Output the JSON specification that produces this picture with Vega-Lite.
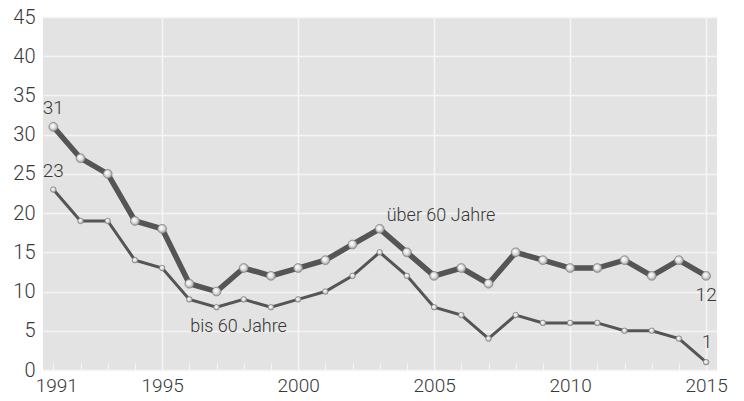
{
  "$schema": "https://vega.github.io/schema/vega-lite/v6.json",
  "width": 674,
  "height": 353,
  "autosize": {"type": "none"},
  "padding": {"left": 43, "top": 17, "right": 27, "bottom": 31},
  "background": "#ffffff",
  "config": {
    "view": {"fill": "#e2e3e2", "stroke": null},
    "font": "Roboto",
    "axis": {
      "labelFont": "Roboto",
      "labelFontWeight": 300,
      "labelColor": "#383838",
      "labelFontSize": 20,
      "domain": false,
      "gridColor": "#f5f5f5",
      "gridWidth": 1.5,
      "title": null
    },
    "text": {"font": "Roboto", "fontWeight": 300, "color": "#383838", "fontSize": 18}
  },
  "data": {
    "values": [
      {"year": 1991, "series": "über 60 Jahre", "value": 31},
      {"year": 1992, "series": "über 60 Jahre", "value": 27},
      {"year": 1993, "series": "über 60 Jahre", "value": 25},
      {"year": 1994, "series": "über 60 Jahre", "value": 19},
      {"year": 1995, "series": "über 60 Jahre", "value": 18},
      {"year": 1996, "series": "über 60 Jahre", "value": 11},
      {"year": 1997, "series": "über 60 Jahre", "value": 10},
      {"year": 1998, "series": "über 60 Jahre", "value": 13},
      {"year": 1999, "series": "über 60 Jahre", "value": 12},
      {"year": 2000, "series": "über 60 Jahre", "value": 13},
      {"year": 2001, "series": "über 60 Jahre", "value": 14},
      {"year": 2002, "series": "über 60 Jahre", "value": 16},
      {"year": 2003, "series": "über 60 Jahre", "value": 18},
      {"year": 2004, "series": "über 60 Jahre", "value": 15},
      {"year": 2005, "series": "über 60 Jahre", "value": 12},
      {"year": 2006, "series": "über 60 Jahre", "value": 13},
      {"year": 2007, "series": "über 60 Jahre", "value": 11},
      {"year": 2008, "series": "über 60 Jahre", "value": 15},
      {"year": 2009, "series": "über 60 Jahre", "value": 14},
      {"year": 2010, "series": "über 60 Jahre", "value": 13},
      {"year": 2011, "series": "über 60 Jahre", "value": 13},
      {"year": 2012, "series": "über 60 Jahre", "value": 14},
      {"year": 2013, "series": "über 60 Jahre", "value": 12},
      {"year": 2014, "series": "über 60 Jahre", "value": 14},
      {"year": 2015, "series": "über 60 Jahre", "value": 12},
      {"year": 1991, "series": "bis 60 Jahre", "value": 23},
      {"year": 1992, "series": "bis 60 Jahre", "value": 19},
      {"year": 1993, "series": "bis 60 Jahre", "value": 19},
      {"year": 1994, "series": "bis 60 Jahre", "value": 14},
      {"year": 1995, "series": "bis 60 Jahre", "value": 13},
      {"year": 1996, "series": "bis 60 Jahre", "value": 9},
      {"year": 1997, "series": "bis 60 Jahre", "value": 8},
      {"year": 1998, "series": "bis 60 Jahre", "value": 9},
      {"year": 1999, "series": "bis 60 Jahre", "value": 8},
      {"year": 2000, "series": "bis 60 Jahre", "value": 9},
      {"year": 2001, "series": "bis 60 Jahre", "value": 10},
      {"year": 2002, "series": "bis 60 Jahre", "value": 12},
      {"year": 2003, "series": "bis 60 Jahre", "value": 15},
      {"year": 2004, "series": "bis 60 Jahre", "value": 12},
      {"year": 2005, "series": "bis 60 Jahre", "value": 8},
      {"year": 2006, "series": "bis 60 Jahre", "value": 7},
      {"year": 2007, "series": "bis 60 Jahre", "value": 4},
      {"year": 2008, "series": "bis 60 Jahre", "value": 7},
      {"year": 2009, "series": "bis 60 Jahre", "value": 6},
      {"year": 2010, "series": "bis 60 Jahre", "value": 6},
      {"year": 2011, "series": "bis 60 Jahre", "value": 6},
      {"year": 2012, "series": "bis 60 Jahre", "value": 5},
      {"year": 2013, "series": "bis 60 Jahre", "value": 5},
      {"year": 2014, "series": "bis 60 Jahre", "value": 4},
      {"year": 2015, "series": "bis 60 Jahre", "value": 1}
    ]
  },
  "encoding": {
    "x": {
      "field": "year",
      "type": "quantitative",
      "scale": {"domain": [1990.62, 2015.4], "nice": false, "zero": false},
      "axis": {
        "values": [1991, 1992, 1993, 1994, 1995, 1996, 1997, 1998, 1999, 2000, 2001, 2002, 2003, 2004, 2005, 2006, 2007, 2008, 2009, 2010, 2011, 2012, 2013, 2014, 2015],
        "labelExpr": "datum.value === 1991 || datum.value % 5 === 0 ? datum.value + '' : ''",
        "labelOffset": {"condition": {"test": "datum.value === 1991", "value": 3}, "value": 0},
        "labelFontSize": 19,
        "gridOpacity": {"condition": {"test": "datum.value % 5 === 0", "value": 1}, "value": 0},
        "ticks": true,
        "tickSize": -7,
        "tickColor": "#f5f5f5",
        "tickWidth": 1.2,
        "labelPadding": 13,
        "labelFlush": false,
        "labelOverlap": false
      }
    },
    "y": {
      "field": "value",
      "type": "quantitative",
      "scale": {"domain": [0, 45], "nice": false},
      "axis": {"values": [0, 5, 10, 15, 20, 25, 30, 35, 40, 45], "ticks": false, "labelPadding": 8}
    }
  },
  "layer": [
    {
      "transform": [{"filter": "datum.series === 'bis 60 Jahre'"}],
      "mark": {"type": "line", "color": "#555555", "strokeWidth": 3}
    },
    {
      "transform": [{"filter": "datum.series === 'über 60 Jahre'"}],
      "mark": {"type": "line", "color": "#555555", "strokeWidth": 5.5}
    },
    {
      "transform": [{"filter": "datum.series === 'bis 60 Jahre'"}],
      "mark": {
        "type": "point",
        "filled": true,
        "size": 32,
        "opacity": 1,
        "stroke": "#7a7a7a",
        "strokeWidth": 0.6,
        "fill": {
          "gradient": "radial",
          "x1": 0.38, "y1": 0.35, "r1": 0,
          "x2": 0.5, "y2": 0.5, "r2": 0.55,
          "stops": [
            {"offset": 0, "color": "#ffffff"},
            {"offset": 0.5, "color": "#e4e4e4"},
            {"offset": 1, "color": "#8a8a8a"}
          ]
        }
      }
    },
    {
      "transform": [{"filter": "datum.series === 'über 60 Jahre'"}],
      "mark": {
        "type": "point",
        "filled": true,
        "size": 80,
        "opacity": 1,
        "stroke": "#7a7a7a",
        "strokeWidth": 0.6,
        "fill": {
          "gradient": "radial",
          "x1": 0.38, "y1": 0.35, "r1": 0,
          "x2": 0.5, "y2": 0.5, "r2": 0.55,
          "stops": [
            {"offset": 0, "color": "#ffffff"},
            {"offset": 0.5, "color": "#e4e4e4"},
            {"offset": 1, "color": "#8a8a8a"}
          ]
        }
      }
    },
    {
      "transform": [{"filter": "datum.year === 1991"}],
      "mark": {"type": "text", "dy": -19, "fontSize": 19},
      "encoding": {"text": {"field": "value", "type": "quantitative"}}
    },
    {
      "transform": [{"filter": "datum.year === 2015 && datum.series === 'über 60 Jahre'"}],
      "mark": {"type": "text", "dy": 19, "fontSize": 19},
      "encoding": {"text": {"field": "value", "type": "quantitative"}}
    },
    {
      "transform": [{"filter": "datum.year === 2015 && datum.series === 'bis 60 Jahre'"}],
      "mark": {"type": "text", "dy": -20, "dx": 1, "fontSize": 19},
      "encoding": {"text": {"field": "value", "type": "quantitative"}}
    },
    {
      "transform": [{"filter": "datum.year === 2003 && datum.series === 'über 60 Jahre'"}],
      "mark": {"type": "text", "align": "left", "dx": 7, "dy": -13},
      "encoding": {"text": {"field": "series", "type": "nominal"}}
    },
    {
      "transform": [{"filter": "datum.year === 1996 && datum.series === 'bis 60 Jahre'"}],
      "mark": {"type": "text", "align": "left", "dx": 1, "dy": 28},
      "encoding": {"text": {"field": "series", "type": "nominal"}}
    }
  ]
}
